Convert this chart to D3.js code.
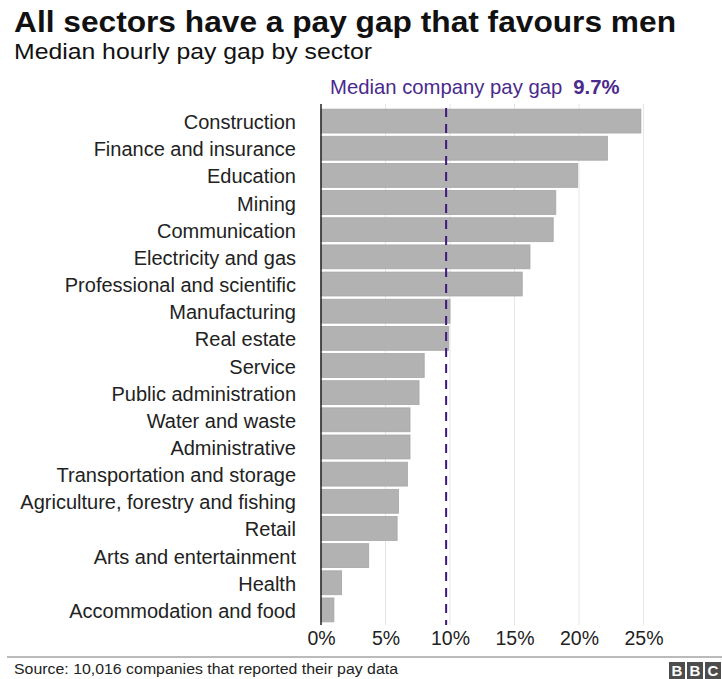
<!DOCTYPE html>
<html>
<head>
<meta charset="utf-8">
<script src="https://cdn.jsdelivr.net/npm/d3@7"></script>
<style>
  body { margin: 0; background: #fff; }
  svg { display: block; font-family: "Liberation Sans", Arial, sans-serif; }
</style>
</head>
<body>
<svg id="chart"></svg>
<script>
const sectors = [
  'Construction', 'Finance and insurance', 'Education', 'Mining', 'Communication',
  'Electricity and gas', 'Professional and scientific', 'Manufacturing', 'Real estate',
  'Service', 'Public administration', 'Water and waste', 'Administrative',
  'Transportation and storage', 'Agriculture, forestry and fishing', 'Retail',
  'Arts and entertainment', 'Health', 'Accommodation and food'
];
const payGap = [24.8, 22.2, 19.9, 18.2, 18.0, 16.2, 15.6, 10.0, 9.9, 8.0, 7.6, 6.9, 6.9, 6.7, 6.0, 5.9, 3.7, 1.6, 1.0];
const tickValues = [0, 5, 10, 15, 20, 25];
const medianGap = 9.7;

const width = 722;
const height = 679;
const margin = { top: 109, right: 78, bottom: 57, left: 321 };

const data = sectors.map((s, i) => ({ sector: s, value: payGap[i] }));

const x = d3.scaleLinear()
  .domain([0, 25])
  .range([margin.left, 643.5]);

const y = d3.scaleBand()
  .domain(sectors)
  .range([margin.top - 1.5, height - margin.bottom + 1.5])
  .paddingInner(0.12)
  .paddingOuter(0.06);

const svg = d3.select('#chart')
  .attr('width', width)
  .attr('height', height);

// titles
svg.append('text')
  .attr('x', 14).attr('y', 32)
  .attr('font-size', 30).attr('font-weight', 'bold').attr('fill', '#111')
  .attr('textLength', 662).attr('lengthAdjust', 'spacingAndGlyphs')
  .text('All sectors have a pay gap that favours men');

svg.append('text')
  .attr('x', 14).attr('y', 59)
  .attr('font-size', 22).attr('fill', '#111')
  .attr('textLength', 358).attr('lengthAdjust', 'spacingAndGlyphs')
  .text('Median hourly pay gap by sector');

// gridlines
svg.append('g')
  .selectAll('line')
  .data(tickValues.slice(1))
  .join('line')
  .attr('x1', d => x(d)).attr('x2', d => x(d))
  .attr('y1', 104).attr('y2', 625)
  .attr('stroke', '#e6e6e6')
  .attr('stroke-width', 1);

// bars
svg.append('g')
  .selectAll('rect')
  .data(data)
  .join('rect')
  .attr('x', x(0))
  .attr('y', d => y(d.sector))
  .attr('width', d => x(d.value) - x(0))
  .attr('height', y.bandwidth())
  .attr('fill', '#b2b2b2')
  .attr('stroke', '#a6a6a6')
  .attr('stroke-width', 0.8);

// sector labels
svg.append('g')
  .attr('font-size', 20)
  .attr('fill', '#222')
  .attr('text-anchor', 'end')
  .selectAll('text')
  .data(data)
  .join('text')
  .attr('x', 296)
  .attr('y', d => y(d.sector) + y.bandwidth() / 2 + 1)
  .attr('dy', '0.35em')
  .text(d => d.sector);

// zero axis line
svg.append('line')
  .attr('x1', x(0)).attr('x2', x(0))
  .attr('y1', 104).attr('y2', 625)
  .attr('stroke', '#222')
  .attr('stroke-width', 1.5);

// median line
svg.append('line')
  .attr('x1', x(medianGap)).attr('x2', x(medianGap))
  .attr('y1', 108).attr('y2', 625)
  .attr('stroke', '#3c1a7d')
  .attr('stroke-width', 2)
  .attr('stroke-dasharray', '9,7');

const medLabel = svg.append('text')
  .attr('x', 330).attr('y', 94)
  .attr('font-size', 20.3)
  .attr('fill', '#4a2a8c');
medLabel.append('tspan').text('Median company pay gap');
medLabel.append('tspan')
  .attr('dx', 11)
  .attr('font-weight', 'bold')
  .text(medianGap + '%');

// x axis ticks
const xAxis = g => g
  .attr('transform', 'translate(0,627)')
  .call(d3.axisBottom(x).tickValues(tickValues).tickSize(0).tickPadding(4).tickFormat(d => d + '%'))
  .call(g => g.select('.domain').remove())
  .call(g => g.selectAll('text')
    .attr('font-size', 19.5)
    .attr('font-family', '"Liberation Sans", Arial, sans-serif')
    .attr('fill', '#222'));

svg.append('g').call(xAxis);

// footer
svg.append('line')
  .attr('x1', 7).attr('x2', width)
  .attr('y1', 657).attr('y2', 657)
  .attr('stroke', '#777')
  .attr('stroke-width', 1);

svg.append('text')
  .attr('x', 14).attr('y', 674)
  .attr('font-size', 15.5).attr('fill', '#222')
  .attr('textLength', 384).attr('lengthAdjust', 'spacingAndGlyphs')
  .text('Source: 10,016 companies that reported their pay data');

const logo = svg.append('g')
  .selectAll('g')
  .data(['B', 'B', 'C'])
  .join('g')
  .attr('transform', (d, i) => `translate(${669 + i * 18},662)`);
logo.append('rect')
  .attr('width', 16).attr('height', 17)
  .attr('fill', '#4d4d4d');
logo.append('text')
  .attr('x', 8).attr('y', 14)
  .attr('text-anchor', 'middle')
  .attr('font-size', 15).attr('font-weight', 'bold')
  .attr('fill', '#fff')
  .text(d => d);
</script>
</body>
</html>
